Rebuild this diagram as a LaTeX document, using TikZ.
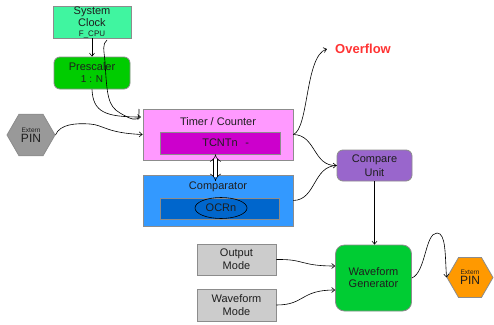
\documentclass[tikz,border=0pt]{standalone}
\usepackage{fontspec}
\setmainfont{Liberation Sans}
\usetikzlibrary{arrows.meta,shapes.geometric}

\definecolor{edgegray}{HTML}{8C8C8C}
\definecolor{txtgray}{HTML}{1E1E1E}
\definecolor{clkgreen}{HTML}{40F5A0}
\definecolor{preglow}{HTML}{00CC00}
\definecolor{tmrpink}{HTML}{FF99FF}
\definecolor{tcntmag}{HTML}{CC00CC}
\definecolor{cmpblue}{HTML}{3399FF}
\definecolor{ocrblue}{HTML}{0066CC}
\definecolor{unitviolet}{HTML}{9966CC}
\definecolor{wavegreen}{HTML}{00CC33}
\definecolor{modegray}{HTML}{CCCCCC}
\definecolor{pingray}{HTML}{999999}
\definecolor{pinorange}{HTML}{FF9900}
\definecolor{ovfred}{HTML}{FF3333}

\tikzset{
  box/.style={draw=edgegray, line width=0.8pt, inner sep=0pt, align=center,
    text=txtgray, font=\fontsize{11}{12}\selectfont},
  rbox/.style={box, rounded corners=6pt},
  hexpin/.style={regular polygon, regular polygon sides=6, draw=edgegray,
    line width=0.8pt, inner sep=0pt, align=center, text=txtgray,
    font=\fontsize{12}{10}\selectfont},
  wire/.style={line width=0.6pt, black}
}

\begin{document}
\begin{tikzpicture}[x=1pt,y=-1pt,>={Straight Barb[length=3pt,width=5pt]}]
\useasboundingbox (0,0) rectangle (494,324);

\node[box, fill=clkgreen, minimum width=78pt, minimum height=32pt] (sysclk) at (92,22)
  {System\\Clock\\[-2pt]{\fontsize{8}{8}\selectfont F\_CPU}};
\node[rbox, fill=preglow, minimum width=76pt, minimum height=32pt] (presc) at (92,73)
  {Prescaler\\{\fontsize{10}{10}\selectfont 1 : N}};

\node[box, fill=tmrpink, minimum width=150pt, minimum height=51pt] (timer) at (218,134.5) {};
\node[text=txtgray, font=\fontsize{11}{12}\selectfont] (tmrtxt) at (218,122) {Timer / Counter};
\node[box, fill=tcntmag, minimum width=120pt, minimum height=22pt] (tcnt) at (220,143)
  {TCNTn\rlap{\hspace{0.7em}-}};

\node[box, fill=cmpblue, minimum width=150pt, minimum height=51pt] (comp) at (218,200.5) {};
\node[text=txtgray, font=\fontsize{11}{12}\selectfont] (cmptxt) at (218,187) {Comparator};
\node[box, fill=ocrblue, minimum width=119pt, minimum height=21pt] (ocr) at (219.5,208.5) {};
\node[ellipse, draw, line width=0.6pt, inner sep=0pt, minimum width=52pt, minimum height=21pt,
  text=txtgray, font=\fontsize{11}{12}\selectfont] (ocrtxt) at (221,208) {OCRn};

\node[rbox, fill=unitviolet, minimum width=75pt, minimum height=31pt,
  font=\fontsize{11}{14}\selectfont] (cmpu) at (374.5,165.5) {Compare\\Unit};
\node[rbox, fill=wavegreen, minimum width=76pt, minimum height=66pt, rounded corners=9pt]
  (wg) at (373.5,278) {Waveform\\Generator};
\node[box, fill=modegray, minimum width=79pt, minimum height=31pt,
  font=\fontsize{11}{13}\selectfont] (outm) at (236.5,259.5) {Output\\Mode};
\node[box, fill=modegray, minimum width=79pt, minimum height=32pt,
  font=\fontsize{11}{13}\selectfont] (wfm) at (236.5,305) {Waveform\\Mode};

\node[hexpin, fill=pingray, minimum size=48pt] (pinL) at (31,135)
  {{\fontsize{6.5}{7}\selectfont Extern}\\PIN};
\node[hexpin, fill=pinorange, minimum size=46pt] (pinR) at (470,277.5)
  {{\fontsize{6.5}{7}\selectfont Extern}\\PIN};

\node[text=ovfred, font=\bfseries\fontsize{13}{13}\selectfont, inner sep=0pt] (ovf) at (363,49) {Overflow};

\coordinate (clkq) at (107,40);
\coordinate (tmrin) at (141,117);
\coordinate (cmpin) at (215.5,181);

\draw[wire,->] (sysclk) -- (presc);
\draw[wire,->] (presc.south) .. controls (93,112) and (105,117) .. (tmrin);
\draw[wire] (clkq) .. controls (102,44) and (104,50) .. (105,62)
  .. controls (107,96) and (108,106) .. (120,113)
  .. controls (127,117) and (132,120) .. (136,119)
  .. controls (139,119) and (139,116) .. (139,109);
\draw[wire,->] (pinL.east) .. controls (60,124) and (76,123) .. (90,124)
  .. controls (104,125) and (106,133) .. (timer.west);
\draw[wire, double, double distance=3.5pt, line width=0.5pt, {Implies}-{Implies}]
  (tcnt.south -| cmpin) -- (cmpin);
\draw[wire,->] (timer.east) .. controls (309,128) and (305,56) .. ([xshift=-8pt]ovf.west);
\draw[wire,->] (timer.east) .. controls (316,135) and (313,166) .. (cmpu.west);
\draw[wire] (comp.east) .. controls (316,200) and (313,166) .. (cmpu.west);
\draw[wire,->] (cmpu) -- (cmpu |- wg.north);
\draw[wire,->] (outm.east) .. controls (305,259) and (300,266) .. ([yshift=12pt]wg.west);
\draw[wire,->] (wfm.east) .. controls (305,305) and (300,290) .. ([yshift=-12pt]wg.west);
\draw[wire,->] (wg.east) .. controls (426,272) and (425,233) .. (437,233)
  .. controls (446,233) and (445,255) .. (pinR.west);
\end{tikzpicture}
\end{document}
